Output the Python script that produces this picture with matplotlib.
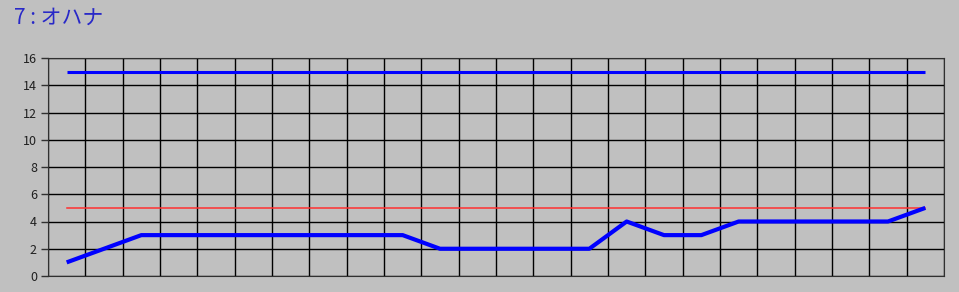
import numpy as np
import matplotlib.pyplot as plt

plt.rcParams['font.family'] = ['Noto Sans CJK JP', 'DejaVu Sans']

title = "7 : オハナ"
values = [1, 2, 3, 3, 3, 3, 3, 3, 3, 3, 2, 2, 2, 2, 2, 4, 3, 3, 4, 4, 4, 4, 4, 5]
upper_level = 15
target_level = 5
y_ticks = [0, 2, 4, 6, 8, 10, 12, 14, 16]

bg = "#c0c0c0"
n = len(values)
x = np.arange(n)

fig = plt.figure(figsize=(9.59, 2.92), dpi=100, facecolor=bg)
ax = fig.add_axes([48 / 959, 16 / 292, 896 / 959, 218 / 292])
ax.set_facecolor(bg)

ax.plot(x, [upper_level] * n, color="#0000ff", lw=2.2, solid_capstyle="butt")
ax.plot(x, [target_level] * n, color="#ff3030", lw=1.1)
ax.plot(x, values, color="#0000ff", lw=3.0, solid_capstyle="butt")

ax.set_xlim(-0.5, n - 0.5)
ax.set_ylim(0, 16)
ax.set_xticks(np.arange(n + 1) - 0.5)
ax.set_xticklabels([])
ax.set_yticks(y_ticks)
ax.tick_params(axis="x", length=0)
ax.tick_params(axis="y", length=5, width=1, color="#303030", labelsize=9,
               labelcolor="#202020", pad=3)
ax.grid(True, color="black", lw=1)
ax.set_axisbelow(True)
for s in ax.spines.values():
    s.set_color("#303030")

fig.text(14 / 959, 1 - 18 / 292, title, color="#2828c8", fontsize=15,
         va="center", ha="left")

fig.savefig("out.png", dpi=100, facecolor=bg)
